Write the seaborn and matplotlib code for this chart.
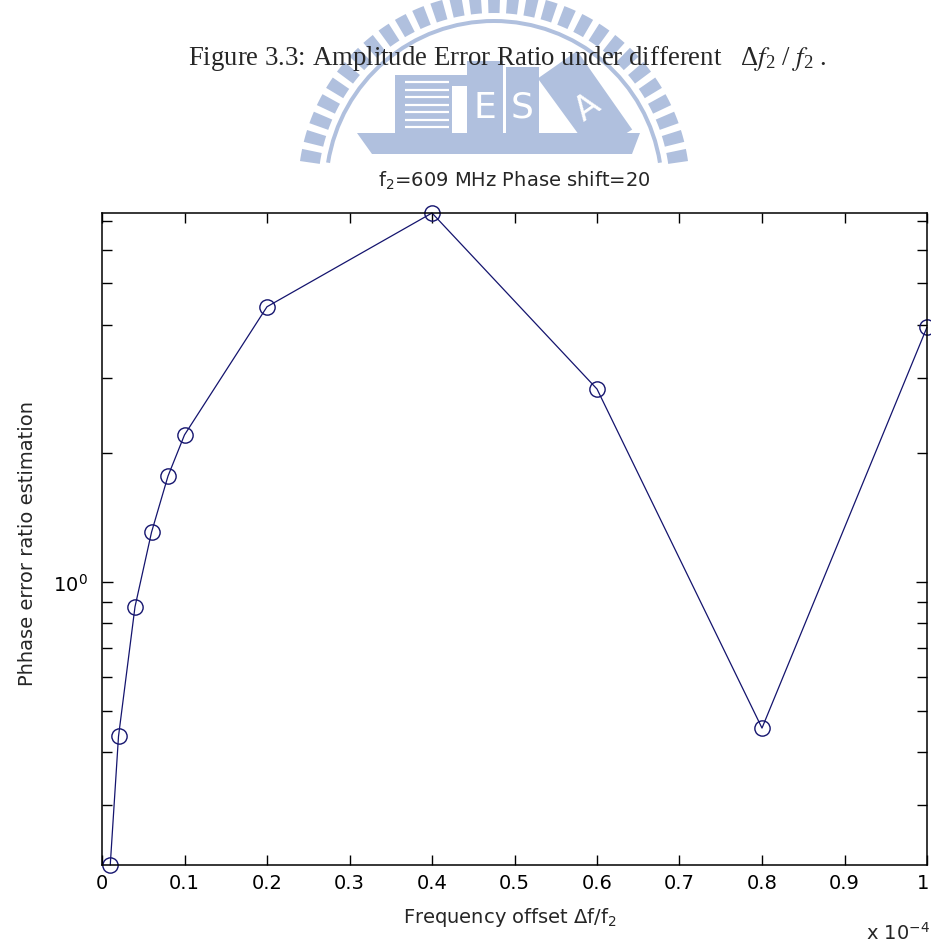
import numpy as np
import matplotlib
matplotlib.use("Agg")
import matplotlib.pyplot as plt
import matplotlib.transforms as mtransforms
import seaborn as sns
import pandas as pd
from matplotlib.patches import Wedge, Rectangle, Polygon
from matplotlib.ticker import FixedLocator, FuncFormatter, LogLocator, NullFormatter

# ---------------- data ----------------
freq_offset = [0.01e-4, 0.02e-4, 0.04e-4, 0.06e-4, 0.08e-4, 0.1e-4,
               0.2e-4, 0.4e-4, 0.6e-4, 0.8e-4, 1.0e-4]
error_ratio = [0.2175, 0.435, 0.875, 1.307, 1.77, 2.21,
               4.41, 7.31, 2.83, 0.455, 3.95]
x_tick_values = [0, 0.1e-4, 0.2e-4, 0.3e-4, 0.4e-4, 0.5e-4,
                 0.6e-4, 0.7e-4, 0.8e-4, 0.9e-4, 1.0e-4]
x_tick_labels = ["0", "0.1", "0.2", "0.3", "0.4", "0.5",
                 "0.6", "0.7", "0.8", "0.9", "1"]
caption = r"Figure 3.3: Amplitude Error Ratio under different   $\Delta \mathit{f}_2\ /\ \mathit{f}_2$ ."
title = r"f$_2$=609 MHz Phase shift=20"
xlabel = r"Frequency offset $\Delta$f/f$_2$"
ylabel = "Phhase error ratio estimation"

df = pd.DataFrame({"offset": freq_offset, "ratio": error_ratio})

# ---------------- style ----------------
sns.set_style("ticks")
plt.rcParams["font.family"] = ["DejaVu Sans"]
plt.rcParams["mathtext.default"] = "regular"
plt.rcParams["font.size"] = 14

W, H = 931, 945
fig = plt.figure(figsize=(W / 100, H / 100), dpi=100)
fig.patch.set_facecolor("white")

# ---------------- watermark (background logo) ----------------
wm = fig.add_axes([0, 0, 1, 1], zorder=-1)
wm.set_xlim(0, W)
wm.set_ylim(H, 0)
wm.axis("off")
wcol = "#b0c0de"
cx, cy = 494, 190
a0, a1 = 190, 350
n_d = 28
step = (a1 - a0) / n_d
for i in range(n_d + 1):
    t = a0 + i * step
    wm.add_patch(Wedge((cx, cy), 196, t - 1.8, t + 1.8, width=20,
                       facecolor=wcol, edgecolor="none"))
wm.add_patch(Wedge((cx, cy), 170, a0 - 1, a1 + 1, width=4,
                   facecolor=wcol, edgecolor="none"))
# hull
wm.add_patch(Polygon([(357, 134), (640, 134), (632, 155), (372, 155)],
                     closed=True, facecolor=wcol, edgecolor="none"))
# striped building
wm.add_patch(Rectangle((395, 76), 57, 58, facecolor=wcol, edgecolor="none"))
for yy in [83, 91, 98, 106, 113, 121, 128]:
    wm.plot([405, 449], [yy, yy], color="white", lw=1.6, solid_capstyle="butt")
wm.add_patch(Rectangle((452, 76), 15, 11, facecolor=wcol, edgecolor="none"))
# E block
wm.add_patch(Rectangle((467, 62), 36, 72, facecolor=wcol, edgecolor="none"))
wm.text(485, 108, "E", color="white", fontsize=26, ha="center", va="center",
        family="Liberation Sans Narrow")
# S block
wm.add_patch(Rectangle((506, 68), 33, 66, facecolor=wcol, edgecolor="none"))
wm.text(522, 108, "S", color="white", fontsize=26, ha="center", va="center",
        family="Liberation Sans Narrow")
# A tilted block
c = np.array([585, 105])
ang = np.deg2rad(35)
u = np.array([-np.sin(ang), -np.cos(ang)])
v = np.array([np.cos(ang), -np.sin(ang)])
pts = [c + 48 * u + 24 * v, c + 48 * u - 24 * v, c - 48 * u - 24 * v, c - 48 * u + 24 * v]
pts = [(p[0], min(p[1], 155)) for p in pts]
wm.add_patch(Polygon(pts, closed=True, facecolor=wcol, edgecolor="none"))
wm.text(588, 108, "A", color="white", fontsize=24, ha="center", va="center",
        rotation=35, family="Liberation Sans Narrow")

# ---------------- main axes ----------------
L, R, T, B = 102, 927, 214, 866
ax = fig.add_axes([L / W, 1 - B / H, (R - L) / W, (B - T) / H])
ax.set_facecolor("white")
navy = "#14146e"
sns.lineplot(data=df, x="offset", y="ratio", ax=ax, sort=False, estimator=None,
             color=navy, linewidth=0.9, marker="o", markersize=11,
             markerfacecolor="none", markeredgecolor=navy, markeredgewidth=1.0)
for ln in ax.lines:
    ln.set_clip_on(False)

ax.set_yscale("log")
ax.set_xlim(0, 1e-4)
ax.set_ylim(min(error_ratio), max(error_ratio))

ax.xaxis.set_major_locator(FixedLocator(x_tick_values))
ax.xaxis.set_major_formatter(FuncFormatter(
    lambda val, pos: x_tick_labels[int(round(val * 1e5))] if 0 <= round(val * 1e5) <= 10 else ""))
ax.yaxis.set_major_locator(LogLocator(base=10, numticks=10))
ax.yaxis.set_minor_locator(LogLocator(base=10, subs=np.arange(2, 10), numticks=20))
ax.yaxis.set_minor_formatter(NullFormatter())

for s in ax.spines.values():
    s.set_visible(True)
    s.set_linewidth(1.1)
    s.set_color("black")

ax.tick_params(axis="both", which="both", direction="in", top=True, right=True,
               width=1.0, colors="black", labelsize=14)
ax.tick_params(axis="x", which="major", length=7, pad=5.5)
ax.tick_params(axis="y", which="major", length=8, pad=10)
ax.tick_params(axis="y", which="minor", length=7)

ax.set_xlabel(xlabel, fontsize=14)
ax.set_ylabel(ylabel, fontsize=14)
ax.xaxis.set_label_coords((510 - L) / (R - L), (B - 906) / (B - T))
ax.yaxis.set_label_coords((37 - L) / (R - L), (B - 543) / (B - T))

# nudge the last x tick label ("1") so it stays inside the image
fig.canvas.draw()
last = ax.get_xticklabels()[-1]
last.set_transform(last.get_transform() +
                   mtransforms.ScaledTranslation(-4 / 100, 0, fig.dpi_scale_trans))

# ---------------- texts ----------------
fig.text(507 / W, 1 - 65 / H, caption, ha="center", va="baseline",
         fontsize=19.3, family="Liberation Serif", math_fontfamily="stix",
         zorder=5)
fig.text(514 / W, 1 - 187 / H, title, ha="center", va="baseline", fontsize=14)
fig.text(866 / W, 1 - 940 / H, r"x 10$^{-4}$", ha="left", va="baseline", fontsize=14)

fig.savefig("out.png", dpi=100, facecolor="white")
